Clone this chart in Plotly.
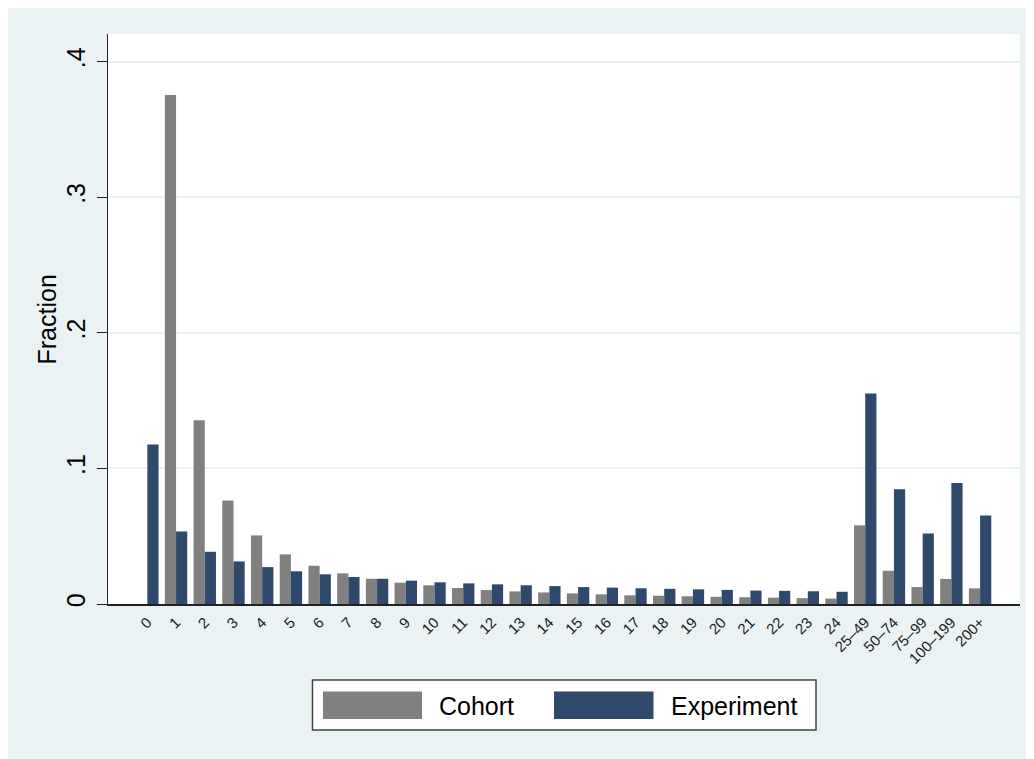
import plotly.graph_objects as go

categories = [str(i) for i in range(25)] + ["25–49", "50–74", "75–99", "100–199", "200+"]
cohort = [0.0, 0.3753, 0.1355, 0.0763, 0.0506, 0.0366, 0.0282, 0.0226, 0.0186, 0.0157,
          0.0138, 0.0118, 0.0103, 0.0093, 0.0085, 0.0078, 0.0071, 0.0064, 0.0061, 0.0057,
          0.0053, 0.0050, 0.0047, 0.0043, 0.0040, 0.0580, 0.0245, 0.0125, 0.0185, 0.0115]
experiment = [0.1176, 0.0535, 0.0385, 0.0314, 0.0272, 0.0241, 0.0219, 0.0199, 0.0186, 0.0172,
              0.0160, 0.0152, 0.0145, 0.0138, 0.0132, 0.0125, 0.0121, 0.0116, 0.0112, 0.0108,
              0.0104, 0.0099, 0.0097, 0.0094, 0.0090, 0.1552, 0.0847, 0.0520, 0.0893, 0.0653]
y_ticks = [0, 0.1, 0.2, 0.3, 0.4]
y_tick_labels = ["0", ".1", ".2", ".3", ".4"]

GRAY = "#808080"
NAVY = "#2F496D"
BG = "#EAF2F3"
FONT = "Liberation Sans, Arial, Helvetica, sans-serif"

fig = go.Figure()
fig.add_trace(go.Bar(x=categories, y=cohort, name="Cohort", marker=dict(color=GRAY, line=dict(width=0)),
                     showlegend=False))
fig.add_trace(go.Bar(x=categories, y=experiment, name="Experiment", marker=dict(color=NAVY, line=dict(width=0)),
                     showlegend=False))

OFF = 8  # page body margin
W, H = 1034 - OFF, 759 - OFF
L, R, T, B = 108 - OFF, 1034 - 1020, 34 - OFF, 759 - 604
pw, ph = W - L - R, H - T - B


def px(x):
    return (x - OFF - L) / pw


def py(y):
    return (H - B - (y - OFF)) / ph


fig.update_layout(
    width=W, height=H,
    margin=dict(l=L, r=R, t=T, b=B, pad=0),
    paper_bgcolor=BG, plot_bgcolor="white",
    barmode="group", bargap=0.22, bargroupgap=0,
    font=dict(family=FONT, color="black"),
    showlegend=False,
    xaxis=dict(
        type="category", range=[-1.37, 30.39],
        showline=True, linecolor="#222", linewidth=1.5,
        ticks="", tickangle=-45, tickfont=dict(size=15, color="#222"),
        showgrid=False, zeroline=False, automargin=False,
        ticklabelstandoff=2,
    ),
    yaxis=dict(
        range=[0, 0.4203], tickvals=y_ticks, ticktext=y_tick_labels,
        showline=True, linecolor="#222", linewidth=1.2,
        ticks="outside", ticklen=10, tickcolor="#222", tickwidth=1.2,
        tickangle=-90, tickfont=dict(size=25, color="black"),
        showgrid=True, gridcolor=BG, gridwidth=1.5,
        zeroline=False, automargin=False, ticklabelstandoff=2,
    ),
)

shapes = [
    # legend box
    dict(type="rect", xref="paper", yref="paper", x0=px(312.5), x1=px(816), y0=py(730), y1=py(680),
         fillcolor="white", line=dict(color="#444", width=1.5)),
    dict(type="rect", xref="paper", yref="paper", x0=px(323), x1=px(422), y0=py(719), y1=py(691.5),
         fillcolor=GRAY, line=dict(width=0)),
    dict(type="rect", xref="paper", yref="paper", x0=px(554), x1=px(653.5), y0=py(719), y1=py(691.5),
         fillcolor=NAVY, line=dict(width=0)),
]
fig.update_layout(shapes=shapes)

annotations = [
    dict(text="Fraction", xref="paper", yref="paper", x=px(46), y=py(319.5), textangle=-90,
         showarrow=False, xanchor="center", yanchor="middle", font=dict(size=25, color="black")),
    dict(text="Cohort", xref="paper", yref="paper", x=px(437), y=py(705.5), showarrow=False,
         xanchor="left", yanchor="middle", font=dict(size=25, color="black")),
    dict(text="Experiment", xref="paper", yref="paper", x=px(669), y=py(705.5), showarrow=False,
         xanchor="left", yanchor="middle", font=dict(size=25, color="black")),
]
fig.update_layout(annotations=annotations)

fig.write_html("out.html")
